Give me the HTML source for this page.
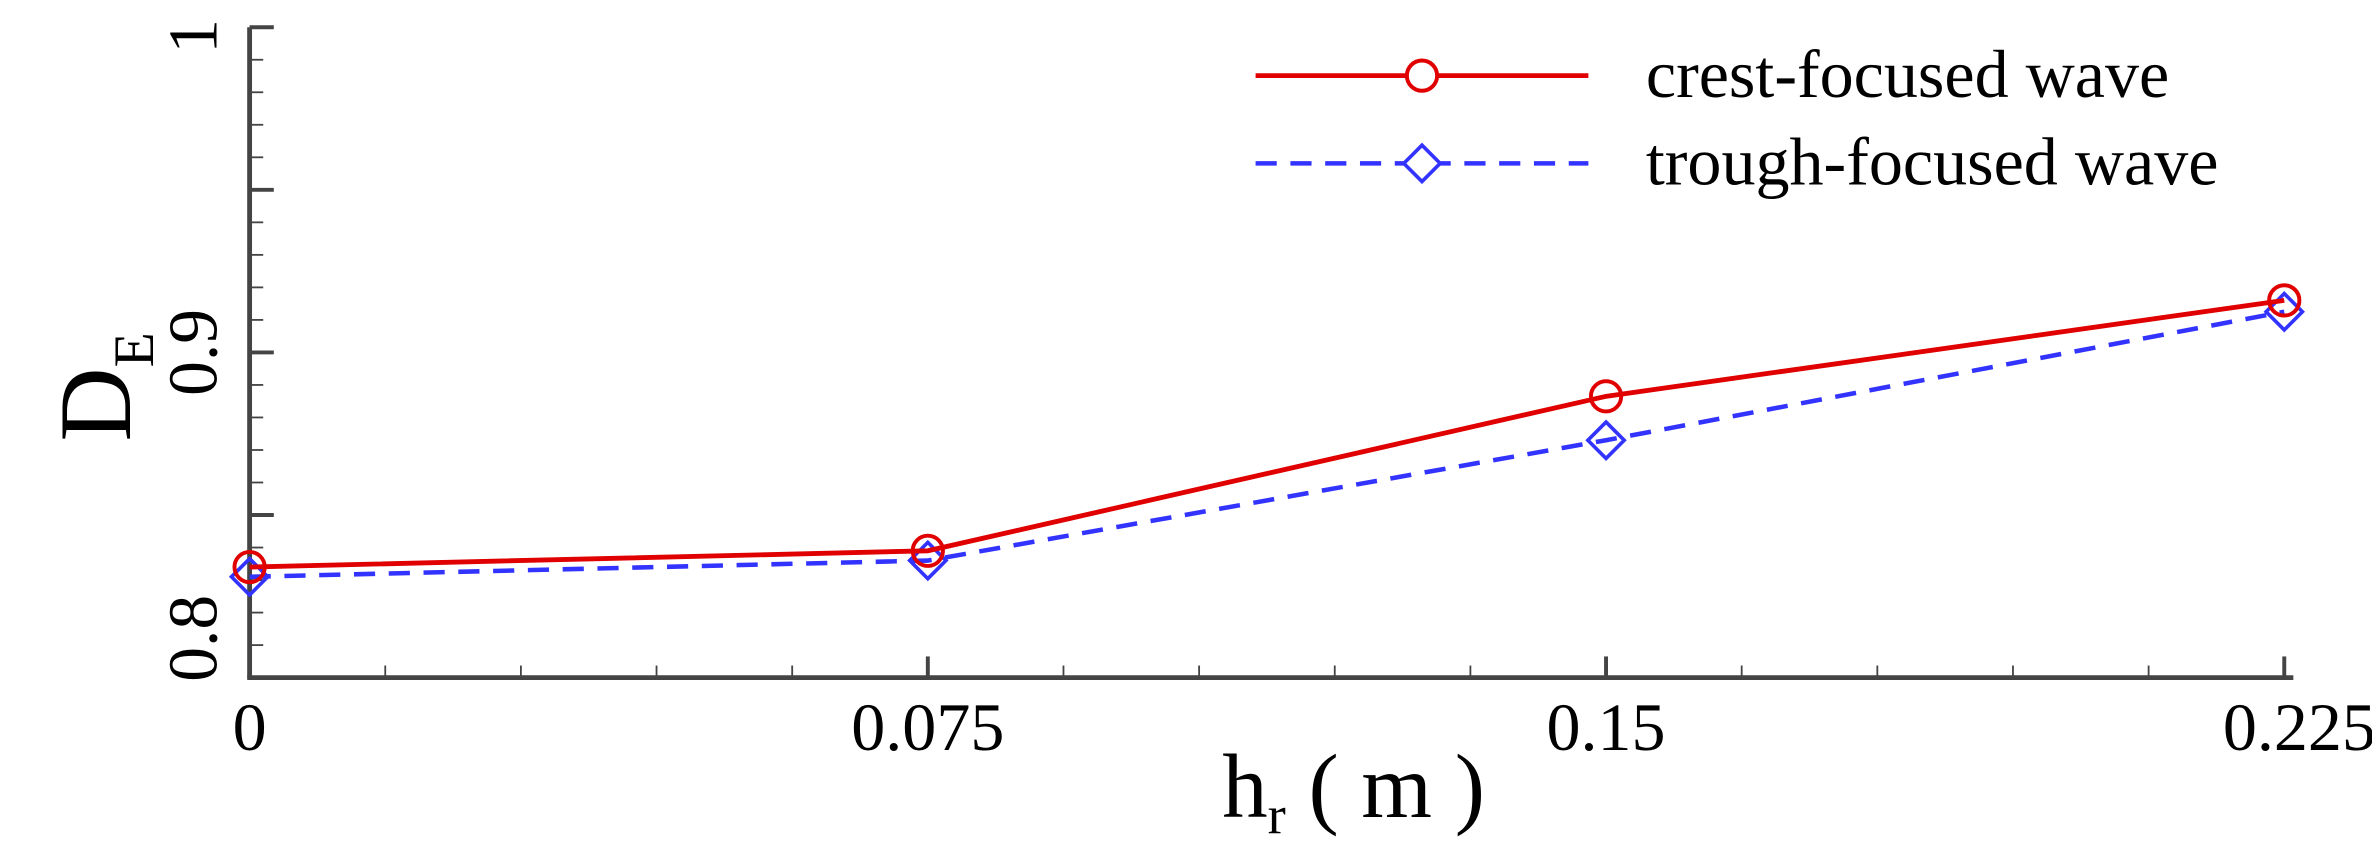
<!DOCTYPE html>
<html><head><meta charset="utf-8"><style>
html,body{margin:0;padding:0;background:#fff;}
svg{display:block;}
text{font-family:"Liberation Serif",serif;fill:#000;}
</style></head><body>
<svg id="chart" width="2372" height="844" viewBox="0 0 1568 558" preserveAspectRatio="none" xmlns="http://www.w3.org/2000/svg">
<g id="axes"></g>
<g id="series"></g>
<g id="legend">
  <line x1="830" y1="50" x2="1050" y2="50" stroke="#e00000" stroke-width="3.2"/>
  <circle cx="940" cy="50" r="10" fill="#fff" stroke="#e00000" stroke-width="2.6"/>
  <text x="1088" y="64" font-size="45">crest-focused wave</text>
  <line x1="830" y1="108" x2="1050" y2="108" stroke="#3333ff" stroke-width="3" stroke-dasharray="14,9"/>
  <path d="M940,96 L952,108 L940,120 L928,108 Z" fill="#fff" stroke="#3333ff" stroke-width="2.4"/>
  <text x="1088" y="122" font-size="45">trough-focused wave</text>
</g>
<text x="808" y="540" font-size="60">h<tspan font-size="36" dy="11">r</tspan><tspan dy="-11"> ( m )</tspan></text>
<text transform="translate(86,292) rotate(-90)" font-size="68">D<tspan font-size="38" dy="15">E</tspan></text>
</svg>
<script>
const categories = [0, 0.075, 0.15, 0.225];
const xTickLabels = ["0", "0.075", "0.15", "0.225"];
const crestValues = [0.834, 0.839, 0.8865, 0.916];
const troughValues = [0.831, 0.836, 0.873, 0.9125];
const yTickValues = [0.8, 0.9, 1];
const yTickLabels = ["0.8", "0.9", "1"];

const NS = "http://www.w3.org/2000/svg";
const X0 = 165, X1 = 1510, Y0 = 448, Y1 = 18;
const xMin = 0, xMax = 0.225, yMin = 0.8, yMax = 1.0;
function xs(v){ return X0 + (v - xMin) / (xMax - xMin) * (X1 - X0); }
function ys(v){ return Y0 - (v - yMin) / (yMax - yMin) * (Y0 - Y1); }
function mk(tag, attrs, parent){
  const e = document.createElementNS(NS, tag);
  for (const k in attrs) e.setAttribute(k, attrs[k]);
  parent.appendChild(e);
  return e;
}
const axes = document.getElementById("axes");
const series = document.getElementById("series");

let e = mk("line", {x1:X0, y1:Y0, x2:X0, y2:Y1, stroke:"#444", "stroke-width":3.2}, axes);


e = mk("line", {x1:X0-1.6, y1:Y0, x2:1516, y2:Y0, stroke:"#444", "stroke-width":3.2}, axes);



for (let i = 0; i <= 20; i++) {
  const v = yMin + i * 0.01;
  const major = i % 5 === 0;
  const t = mk("line", {x1:X0, x2:X0 + (major ? 16 : 9), y1:ys(v), y2:ys(v), stroke:"#444", "stroke-width": major ? 2.6 : 1.2}, axes);
  
  
}
for (let i = 0; i <= 15; i++) {
  const v = i * 0.015;
  const major = i % 5 === 0;
  const t = mk("line", {x1:xs(v), x2:xs(v), y1:Y0, y2:Y0 - (major ? 14 : 8), stroke:"#444", "stroke-width": major ? 2.6 : 1.2}, axes);
  
  
}
yTickValues.forEach((v, i) => {
  let cy = ys(v);
  if (i === 0) cy = Y0 - 26;
  if (i === yTickValues.length - 1) cy = Y1 + 6;
  const t = mk("text", {transform:"translate(143," + cy + ") rotate(-90)", "text-anchor":"middle", "font-size":46}, axes);
  t.textContent = yTickLabels[i];
  
  
});
categories.forEach((v, i) => {
  let ax = xs(v);
  if (i === categories.length - 1) ax = xs(v) + 10;
  const t = mk("text", {x:ax, y:496, "text-anchor":"middle", "font-size":45}, axes);
  t.textContent = xTickLabels[i];
  
  
});

function pts(vals){ return vals.map((v, i) => xs(categories[i]) + "," + ys(v)).join(" "); }

let p = mk("polyline", {points:pts(troughValues), fill:"none", stroke:"#3333ff", "stroke-width":3, "stroke-dasharray":"14,9"}, series);


troughValues.forEach((v, i) => {
  const cx = xs(categories[i]), cy = ys(v), r = 12;
  const m = mk("path", {d:`M${cx},${cy-r} L${cx+r},${cy} L${cx},${cy+r} L${cx-r},${cy} Z`, fill:"none", stroke:"#3333ff", "stroke-width":2.4}, series);
  
  
});
p = mk("polyline", {points:pts(crestValues), fill:"none", stroke:"#e00000", "stroke-width":3.2}, series);


crestValues.forEach((v, i) => {
  const m = mk("circle", {cx:xs(categories[i]), cy:ys(v), r:10, fill:"none", stroke:"#e00000", "stroke-width":2.6}, series);
  
  
});
</script>
</body></html>
